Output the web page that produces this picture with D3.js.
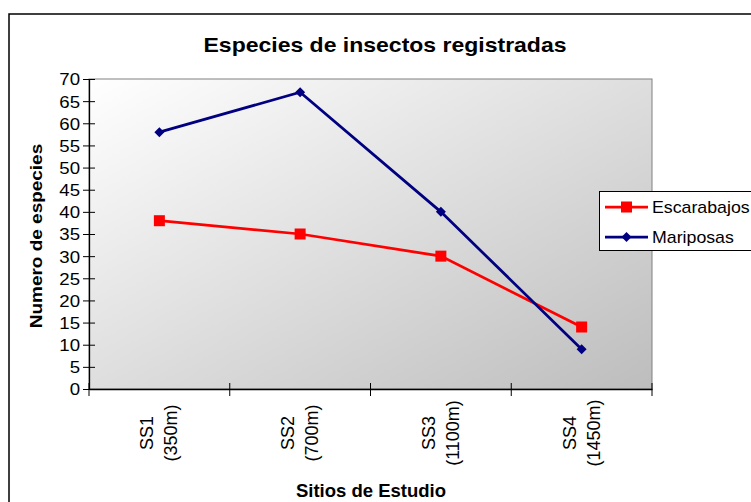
<!DOCTYPE html>
<html><head><meta charset="utf-8">
<script src="https://cdn.jsdelivr.net/npm/d3@7"></script>
<style>body{margin:0;background:#fff}svg{display:block;font-family:"Liberation Sans",Arial,sans-serif}</style>
</head><body><svg id="c" width="751" height="502"></svg>
<script>
const siteNames = ["SS1", "SS2", "SS3", "SS4"];
const siteAltitudes = ["(350m)", "(700m)", "(1100m)", "(1450m)"];
const escarabajos = [38, 35, 30, 14];
const mariposas = [58, 67, 40, 9];
const yTickValues = [0, 5, 10, 15, 20, 25, 30, 35, 40, 45, 50, 55, 60, 65, 70];
const seriesNames = ["Escarabajos", "Mariposas"];
const titleText = "Especies de insectos registradas";
const xTitleText = "Sitios de Estudio";
const yTitleText = "Numero de especies";

const RED = "#ff0000", NAVY = "#000080";
const svg = d3.select("#c");
const plot = {l: 89, t: 79, r: 652, b: 389};
const x = d3.scaleBand().domain(siteNames).range([plot.l, plot.r]).padding(0);
const y = d3.scaleLinear().domain([0, 70]).range([plot.b, plot.t]);
const cx = d => x(d) + x.bandwidth() / 2;

function sText(px, py, rot, sx, txt, size, weight, anchor) {
  return svg.append("text")
    .attr("transform", `translate(${px},${py}) rotate(${rot}) scale(${sx},1)`)
    .attr("font-size", size).attr("font-weight", weight || "normal")
    .attr("text-anchor", anchor || "start").attr("fill", "#000").text(txt);
}

// outer chart border
svg.append("rect").attr("x", 9).attr("y", 14).attr("width", 800).attr("height", 600)
  .attr("fill", "#fff").attr("stroke", "#000").attr("stroke-width", 1.5);

// plot gradient
const grad = svg.append("defs").append("linearGradient").attr("id", "pg")
  .attr("x1", 0).attr("y1", 0).attr("x2", 1).attr("y2", 1);
grad.append("stop").attr("offset", 0).attr("stop-color", "#ffffff");
grad.append("stop").attr("offset", 1).attr("stop-color", "#bdbdbd");
svg.append("rect").attr("x", plot.l).attr("y", plot.t)
  .attr("width", plot.r - plot.l).attr("height", plot.b - plot.t)
  .attr("fill", "url(#pg)").attr("stroke", "#808080").attr("stroke-width", 1);

// title
sText(385, 52, 0, 1.15, titleText, 20, "bold", "middle");

// y axis
const gy = svg.append("g").attr("transform", `translate(${plot.l},0)`)
  .call(d3.axisLeft(y).tickValues(yTickValues).tickSizeInner(6).tickSizeOuter(0).tickPadding(3));
gy.attr("font-family", null).attr("font-size", null);
gy.select(".domain").attr("stroke", "#000").attr("stroke-width", 1.3);
gy.selectAll(".tick line").attr("x1", 6).attr("stroke", "#000");
gy.selectAll(".tick text").attr("font-size", 16.5).attr("fill", "#000")
  .attr("x", -9 / 1.13).attr("transform", "scale(1.13,1)").attr("dy", "0.36em");

// x axis
const gx = svg.append("g").attr("transform", `translate(0,${plot.b})`)
  .call(d3.axisBottom(x).tickSizeInner(7).tickSizeOuter(0).tickFormat(""));
gx.select(".domain").attr("stroke", "#000").attr("stroke-width", 1.3);
gx.selectAll(".tick").attr("transform", d => `translate(${x(d)},0)`);
gx.selectAll(".tick line").attr("y1", -6).attr("stroke", "#000");
gx.append("line").attr("x1", plot.r).attr("x2", plot.r).attr("y1", -6).attr("y2", 7).attr("stroke", "#000");

// x category labels (two rotated lines)
siteNames.forEach((s, i) => {
  sText(cx(s) - 6, 433, -90, 1.0, s, 18, "normal", "middle");
  sText(cx(s) + 18, 433, -90, 1.0, siteAltitudes[i], 18, "normal", "middle");
});

// axis titles
sText(42, 236, -90, 1.15, yTitleText, 16.5, "bold", "middle");
sText(371, 497, 0, 1.0, xTitleText, 18.5, "bold", "middle");

// series
const line = d3.line().x((d, i) => cx(siteNames[i])).y(d => y(d));
svg.append("path").datum(escarabajos).attr("d", line).attr("fill", "none")
  .attr("stroke", RED).attr("stroke-width", 2.75);
svg.selectAll(".sq").data(escarabajos).join("rect").attr("class", "sq")
  .attr("x", (d, i) => cx(siteNames[i]) - 5.5).attr("y", d => y(d) - 5.5)
  .attr("width", 11).attr("height", 11).attr("fill", RED);
svg.append("path").datum(mariposas).attr("d", line).attr("fill", "none")
  .attr("stroke", NAVY).attr("stroke-width", 2.75);
svg.selectAll(".dm").data(mariposas).join("path").attr("class", "dm")
  .attr("transform", (d, i) => `translate(${cx(siteNames[i])},${y(d)})`)
  .attr("d", "M0,-5L5,0L0,5L-5,0Z").attr("fill", NAVY);

// legend
svg.append("rect").attr("x", 599.5).attr("y", 191.5).attr("width", 200).attr("height", 59)
  .attr("fill", "#fff").attr("stroke", "#000").attr("stroke-width", 1);
const legY = [207, 237];
const legColors = [RED, NAVY];
seriesNames.forEach((n, i) => {
  svg.append("line").attr("x1", 605).attr("x2", 648).attr("y1", legY[i]).attr("y2", legY[i])
    .attr("stroke", legColors[i]).attr("stroke-width", 2.75);
  if (i === 0) {
    svg.append("rect").attr("x", 621).attr("y", legY[i] - 5.5).attr("width", 11).attr("height", 11).attr("fill", RED);
  } else {
    svg.append("path").attr("transform", `translate(626.5,${legY[i]})`).attr("d", "M0,-5L5,0L0,5L-5,0Z").attr("fill", NAVY);
  }
  sText(652, legY[i] + 6, 0, 1.11, n, 16, "normal", "start");
});
</script></body></html>
